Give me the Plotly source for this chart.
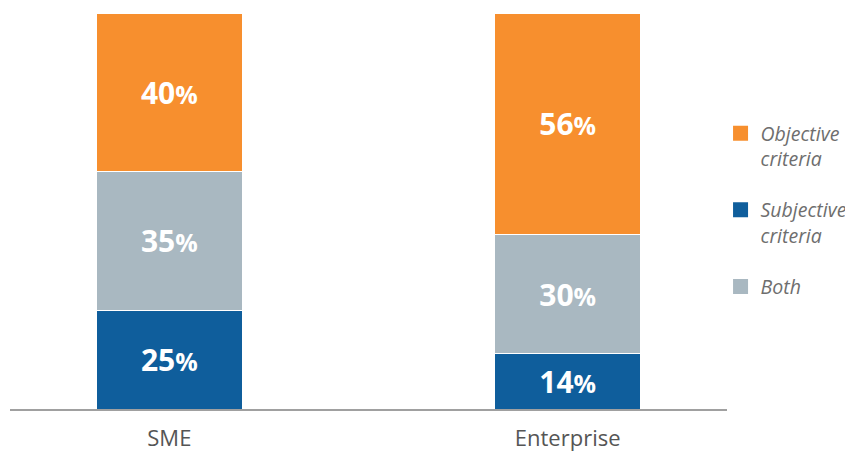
import plotly.graph_objects as go

categories = ["SME", "Enterprise"]
subjective = [25, 14]
both = [35, 30]
objective = [40, 56]

series_names = ["Objective<br>criteria", "Subjective<br>criteria", "Both"]
colors = {"objective": "#F78F2E", "subjective": "#0F5E9C", "both": "#A9B8C1"}

label_tpl = "<b>%{y}<span style='font-size:25px'>%</span></b>"

fig = go.Figure()
for vals, key in [(subjective, "subjective"), (both, "both"), (objective, "objective")]:
    fig.add_trace(go.Bar(
        x=categories, y=vals, showlegend=False,
        marker=dict(color=colors[key], line=dict(color="white", width=1)),
        texttemplate=label_tpl, textposition="inside", insidetextanchor="middle",
        textfont=dict(family="Open Sans", size=30, color="white"),
        constraintext="none",
        width=0.368,
    ))

# legend entries (square swatches)
for name, key, rank in [
    (series_names[0], "objective", 1),
    (series_names[1], "subjective", 2),
    (series_names[2], "both", 3),
]:
    fig.add_trace(go.Scatter(
        x=[None], y=[None], mode="markers", name=name,
        marker=dict(symbol="square", size=15, color=colors[key]),
        legendrank=rank, legendgroup=key, hoverinfo="skip",
    ))

fig.update_layout(
    barmode="stack",
    width=853, height=452,
    margin=dict(l=2, r=134, t=5, b=51, autoexpand=False),
    paper_bgcolor="white", plot_bgcolor="white",
    showlegend=True,
    legend=dict(
        x=0.991, xanchor="left", y=0.745, yanchor="top", valign="top",
        font=dict(family="Open Sans", size=19.5, color="#6E6E6E", style="italic"),
        tracegroupgap=23, itemwidth=30,
        bgcolor="rgba(0,0,0,0)",
    ),
    xaxis=dict(
        range=[-0.4, 1.4], showgrid=False, showline=True,
        linecolor="#A0A0A0", linewidth=1.5,
        ticks="outside", ticklen=9, tickcolor="rgba(0,0,0,0)",
        tickfont=dict(family="Open Sans", size=22, color="#555555"),
    ),
    yaxis=dict(range=[0, 100], visible=False, showgrid=False),
)

fig.write_html("out.html")
